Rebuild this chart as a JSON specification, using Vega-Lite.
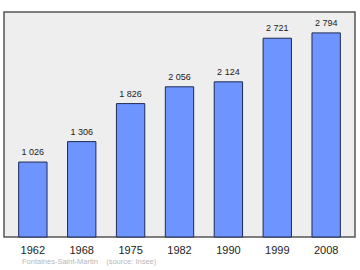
{
  "$schema": "https://vega.github.io/schema/vega-lite/v6.json",
  "autosize": "none",
  "width": 351,
  "height": 225,
  "padding": {"left": 4, "top": 12, "right": 5, "bottom": 33},
  "background": "white",
  "data": {"values": [
    {"year": "1962", "pop": 1026, "label": "1 026"},
    {"year": "1968", "pop": 1306, "label": "1 306"},
    {"year": "1975", "pop": 1826, "label": "1 826"},
    {"year": "1982", "pop": 2056, "label": "2 056"},
    {"year": "1990", "pop": 2124, "label": "2 124"},
    {"year": "1999", "pop": 2721, "label": "2 721"},
    {"year": "2008", "pop": 2794, "label": "2 794"}
  ]},
  "title": {
    "text": "Fontaines-Saint-Martin \u00a0\u00a0\u00a0(source: Insee)",
    "orient": "bottom",
    "anchor": "start",
    "frame": "group",
    "dx": 18,
    "offset": 3,
    "fontSize": 7.5,
    "font": "Liberation Sans",
    "fontWeight": "normal",
    "color": "#b8b8b8"
  },
  "encoding": {
    "x": {
      "field": "year", "type": "ordinal",
      "scale": {"paddingInner": 0.42, "paddingOuter": 0.3},
      "axis": {"title": null, "domain": false, "ticks": false, "labelAngle": 0, "labelFontSize": 11, "labelFont": "Liberation Sans", "labelColor": "#222", "labelPadding": 7}
    },
    "y": {
      "field": "pop", "type": "quantitative",
      "scale": {"domain": [0, 3080], "nice": false},
      "axis": null
    }
  },
  "layer": [
    {"mark": {"type": "bar", "color": "#6e94ff", "stroke": "#1f2a55", "strokeWidth": 1}},
    {"mark": {"type": "text", "dy": -10, "fontSize": 9, "font": "Liberation Sans", "color": "#222"},
     "encoding": {"text": {"field": "label"}}}
  ],
  "config": {
    "view": {"fill": "#eeeeee", "stroke": "#555555", "strokeWidth": 1.5}
  }
}
